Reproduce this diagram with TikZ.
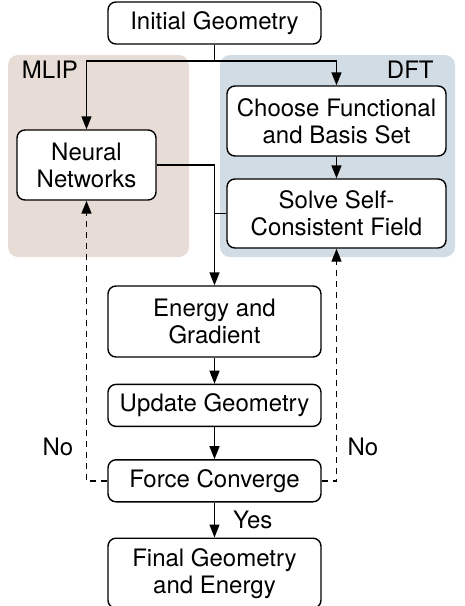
\documentclass[tikz,border=0pt]{standalone}
\usepackage{fontspec}
\setmainfont{TeX Gyre Heros}
\usetikzlibrary{positioning, arrows.meta}
\definecolor{mlipbg}{RGB}{232,220,214}
\definecolor{dftbg}{RGB}{210,220,228}
\tikzstyle{block} = [draw, rounded corners=4pt, line width=0.7pt, fill=white, align=center, inner sep=0pt, font=\fontsize{12}{13.5}\selectfont]
\tikzstyle{arrow} = [line width=0.7pt, -{Triangle[length=6.5pt,width=5pt]}]
\tikzstyle{line} = [line width=0.7pt]
\tikzstyle{lbl} = [font=\fontsize{12}{13.5}\selectfont, inner sep=0pt]

\begin{document}
\begin{tikzpicture}[x=0.5pt, y=-0.5pt]
\useasboundingbox (0,0) rectangle (465,606);
% background panels
\fill[mlipbg, rounded corners=5pt] (8,55) rectangle (189,257);
\fill[dftbg, rounded corners=5pt] (220,55) rectangle (455,257);
\node[lbl] (mlip) at (50,70) {MLIP};
\node[lbl, anchor=east] (dft) at (434,70) {DFT};

% boxes
\node[block, minimum width=106.5pt, minimum height=21pt] (init) at (214.5,23) {Initial Geometry};
\node[block, minimum width=69.5pt, minimum height=35pt] (nn) at (86.5,165) {Neural\\Networks};
\node[block, minimum width=109.5pt, minimum height=35pt] (choose) at (336.5,121) {Choose Functional\\and Basis Set};
\node[block, minimum width=109.5pt, minimum height=34.5pt] (solve) at (336.5,213.5) {Solve Self-\\Consistent Field};
\node[block, minimum width=106.5pt, minimum height=35.5pt] (energy) at (214.5,321.5) {Energy and\\Gradient};
\node[block, minimum width=106.5pt, minimum height=21pt, below=13pt of energy] (update) {Update Geometry};
\node[block, minimum width=106.5pt, minimum height=21pt, below=16pt of update] (force) {Force Converge};
\node[block, minimum width=106.5pt, minimum height=35pt, below=17.5pt of force] (final) {Final Geometry\\and Energy};

% connectors
\coordinate (split) at (214.5,61);
\draw[line] (init) -- (split);
\draw[arrow] (split) -| (nn);
\draw[arrow] (split) -| (choose);
\draw[arrow] (choose) -- (solve);
\draw[arrow] (nn) -| (energy);
\draw[line] (solve) -- (solve -| energy);
\draw[arrow] (energy) -- (update);
\draw[arrow] (update) -- (force);
\draw[arrow] (force) -- node[lbl, right=9pt] (yes) {Yes} (final);

% loops back
\draw[arrow, dash pattern=on 3pt off 2.5pt] (force) -| (nn);
\draw[arrow, dash pattern=on 3pt off 2.5pt] (force) -| (solve);
\node[lbl] (nol) at (58,447) {No};
\node[lbl] (nor) at (363,447) {No};
\end{tikzpicture}
\end{document}
